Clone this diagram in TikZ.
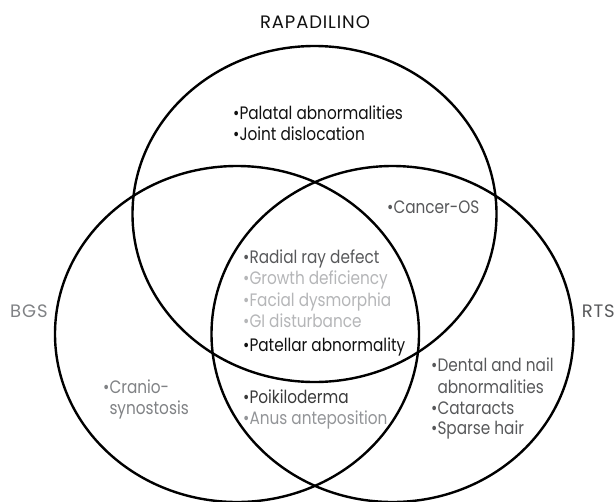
\documentclass[tikz,border=0pt]{standalone}
\usepackage{fontspec}
\setmainfont{Poppins}[FakeStretch=0.85]
\newfontfamily\capsfont{Poppins}[LetterSpace=5]
\definecolor{cBlack}{HTML}{111111}
\definecolor{cDark}{HTML}{58595B}
\definecolor{cPoik}{HTML}{3A3A3A}
\definecolor{cMid}{HTML}{808285}
\definecolor{cAnus}{HTML}{939598}
\definecolor{cLight}{HTML}{B5B6B8}
\tikzset{
  vennline/.style={draw=black, line width=2.4pt},
  lbl/.style={inner sep=0pt, anchor=base west, font=\fontsize{18}{21}\selectfont},
  setname/.style={inner sep=0pt, font=\capsfont\fontsize{18}{21}\selectfont},
}
\begin{document}
\begin{tikzpicture}[x=1pt, y=-1pt]
\fill[white] (0,0) rectangle (616,501);
\useasboundingbox (0,0) rectangle (616,501);
% sets
\draw[vennline] (314.5,214) ellipse [x radius=182pt, y radius=168pt];
\draw[vennline] (237,334) ellipse [x radius=182pt, y radius=168pt];
\draw[vennline] (392.5,334) ellipse [x radius=181pt, y radius=168pt];
% set names
\node[setname, anchor=base, text=cBlack] (rap) at (315,28) {RAPADILINO};
\node[setname, anchor=base west, text=cMid] (bgs) at (10,317) {BGS};
\node[setname, anchor=base east, text=cDark] (rts) at (615,317) {RTS};
% RAPADILINO only
\node[lbl, text=cBlack] (pal) at (233,119) {•Palatal abnormalities};
\node[lbl, text=cBlack] (joint) at (233,140) {•Joint dislocation};
% RAPADILINO & RTS
\node[lbl, text=cDark] (cancer) at (387,213) {•Cancer-OS};
% all three
\node[lbl, text=cDark] (radial) at (243,263) {•Radial ray defect};
\node[lbl, text=cLight] (growth) at (243,284) {•Growth deficiency};
\node[lbl, text=cLight] (facial) at (243,306) {•Facial dysmorphia};
\node[lbl, text=cLight] (gi) at (243,327) {•GI disturbance};
\node[lbl, text=cBlack] (patellar) at (243,351) {•Patellar abnormality};
% BGS & RTS
\node[lbl, text=cPoik] (poik) at (243,403) {•Poikiloderma};
\node[lbl, text=cAnus] (anus) at (243,424) {•Anus anteposition};
% BGS only
\node[lbl, text=cMid] (cranio1) at (103,393) {•Cranio-};
\node[lbl, text=cMid] (cranio2) at (103,414) {\phantom{•}synostosis};
% RTS only
\node[lbl, text=cDark] (dental1) at (431,371) {•Dental and nail};
\node[lbl, text=cDark] (dental2) at (431,393) {\phantom{•}abnormalities};
\node[lbl, text=cDark] (cat) at (431,414) {•Cataracts};
\node[lbl, text=cDark] (sparse) at (431,434) {•Sparse hair};
\end{tikzpicture}
\end{document}
